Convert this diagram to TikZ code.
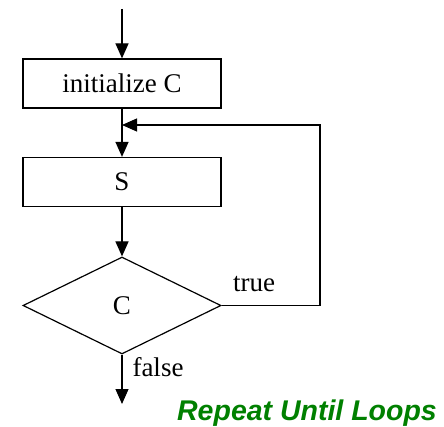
\documentclass[tikz,border=0pt]{standalone}
\usepackage{fontspec}
\setmainfont{Liberation Serif}
\newfontfamily\titlefont{Liberation Sans}
\usepackage{xcolor}
\usetikzlibrary{positioning,arrows.meta,shapes.geometric}
\definecolor{titlegreen}{RGB}{0,128,0}

\begin{document}
\begin{tikzpicture}[x=1pt,y=1pt,line width=1.2pt,
    flow/.style={-{Triangle[length=15pt,width=13pt]}},
    box/.style={draw,minimum width=198pt,minimum height=49pt,inner sep=0pt,font=\fontsize{27}{30}\selectfont},
    decision/.style={draw,diamond,minimum width=198pt,minimum height=97pt,inner sep=0pt,font=\fontsize{27}{30}\selectfont},
    lbl/.style={inner sep=0pt,font=\fontsize{27}{30}\selectfont}]
      \useasboundingbox (0,0) rectangle (444,-427);
      \coordinate (start) at (122,-9);
      \node[box] (init) at (122,-83.5) {initialize C};
      \coordinate (join) at (122,-125);
      \node[box] (body) at (122,-182) {S};
      \node[decision] (cond) at (122,-305.5) {C};
      \coordinate (stop) at (122,-404);
      \coordinate (back) at (320,-125);
      \draw[flow] (start) -- (init.north);
      \draw[flow] (init.south) -- (body.north);
      \draw[flow] (body.south) -- (cond.north);
      \draw[flow] (cond.south) -- (stop);
      \draw[flow] (cond.east) -| (back) -- (join);
      \node[lbl] (t) at (254,-284) {true};
      \node[lbl] (f) at (158,-367) {false};
      \node (title) [font=\titlefont\bfseries\itshape\fontsize{28.5}{31}\selectfont,text=titlegreen,inner sep=0pt] at (307,-413) {Repeat Until Loops};
    \end{tikzpicture}
\end{document}
